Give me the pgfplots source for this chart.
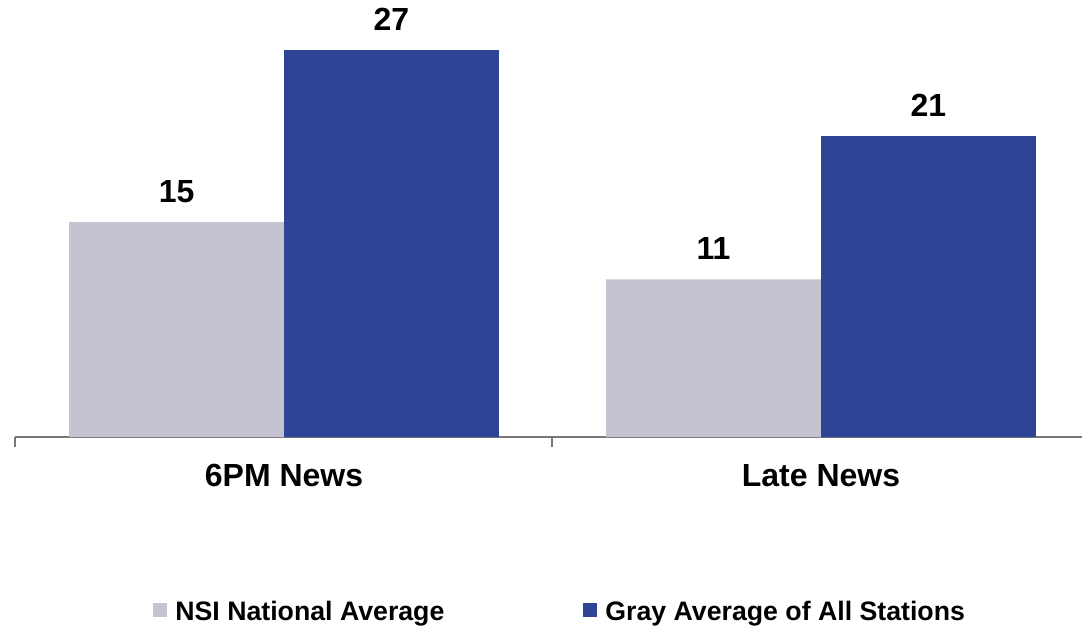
\documentclass[border=0pt]{standalone}
\usepackage{pgfplots}
\pgfplotsset{compat=1.18}
\usepackage{fontspec}
\setmainfont{Liberation Sans}
\definecolor{barGray}{RGB}{197,194,209}
\definecolor{barBlue}{RGB}{46,69,150}
\definecolor{axGray}{RGB}{120,120,120}
\begin{document}
\begin{tikzpicture}
\useasboundingbox (-7.5pt,-95.5pt) rectangle (533.5pt,218.5pt);
\begin{axis}[
  scale only axis,
  width=533.5pt, height=215pt,
  xmin=-0.501, xmax=1.486,
  ymin=0, ymax=30,
  axis x line*=bottom,
  axis y line=none,
  axis line style={axGray, line width=1pt},
  xtick={0,1},
  xticklabels={6PM News, Late News},
  major tick length=0pt,
  extra x ticks={-0.501,0.499},
  extra x tick labels={},
  extra x tick style={major tick length=5pt, tick align=outside, tick style={axGray, line width=1pt}},
  xticklabel style={font=\fontsize{16}{19}\selectfont\bfseries, anchor=base, yshift=-24.5pt, inner sep=0pt},
  ybar,
  bar width=0.4,
  nodes near coords,
  /pgf/number format/assume math mode=true,
  every node near coord/.append style={font=\fontsize{16}{19}\selectfont\bfseries, black, anchor=south, inner sep=0pt, yshift=9.5pt},
  legend columns=2,
  legend style={at={(0.51,-0.408)}, anchor=center, draw=none, fill=none,
    font=\fontsize{13.35}{15}\selectfont\bfseries,
    nodes={inner sep=0pt},
    /tikz/every odd column/.append style={column sep=4pt},
    /tikz/every even column/.append style={column sep=69.5pt}},
  legend image code/.code={\fill[#1] (0pt,-2.3pt) rectangle (7pt,4.7pt);},
]
\addplot[fill=barGray, draw=none, bar shift=-0.2] coordinates {(0,15) (1,11)};
\addplot[fill=barBlue, draw=none, bar shift=0.2] coordinates {(0,27) (1,21)};
\legend{NSI National Average, Gray Average of All Stations}
\end{axis}
\end{tikzpicture}
\end{document}
